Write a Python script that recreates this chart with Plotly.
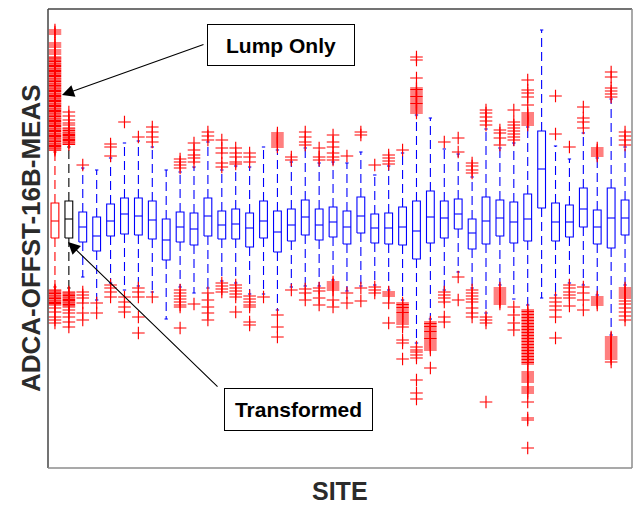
import plotly.graph_objects as go

# ---- per-site box statistics (measurement units) ----
sites = list(range(1, 43))

whisker_hi = [316, 321, 300, 298, 310, 325, 327, 321, 298, 296, 301, 326, 298, 302, 301, 321, 318, 306, 320, 305,
              306, 305, 316, 293, 302, 315, 353, 350, 319, 314, 291, 339, 320, 325, 341, 438, 322, 309, 335, 310,
              369, 321]
q3 = [265, 267, 256, 251, 264, 270, 270, 267, 249, 256, 255, 270, 257, 259, 255, 267, 257, 259, 268, 259,
      261, 257, 271, 254, 255, 261, 267, 277, 267, 269, 249, 271, 268, 266, 274, 337, 265, 263, 280, 258,
      280, 268]
median = [247, 249, 241, 232, 247, 254, 252, 248, 228, 241, 239, 252, 243, 244, 240, 247, 236, 243, 251, 243,
          246, 241, 252, 240, 240, 241, 237, 251, 250, 254, 235, 247, 250, 246, 249, 299, 246, 246, 259, 241,
          250, 250]
q1 = [230, 230, 226, 217, 232, 234, 233, 229, 208, 226, 223, 232, 229, 229, 221, 230, 216, 227, 233, 228,
      231, 224, 235, 225, 224, 223, 209, 225, 230, 239, 219, 224, 232, 225, 227, 260, 227, 231, 241, 224,
      220, 233]
whisker_lo = [181, 180, 191, 168, 185, 178, 182, 176, 149, 181, 175, 180, 187, 185, 174, 174, 158, 181, 182, 182,
              188, 177, 182, 183, 178, 168, 125, 149, 178, 196, 180, 155, 183, 169, 163, 170, 173, 185, 183, 173,
              133, 183]

outliers = [
    # site 1 (lump only)
    [438, 436, 434, 425, 423, 421, 418, 416, 414,
     411, 410, 409, 407.8, 406.5, 405, 404, 402.7, 401.5, 400, 399, 397.6, 396.4, 395, 394, 392.7, 391.5, 390,
     389, 387.8, 386.5, 385, 384, 382.6, 381.3, 380, 379, 377.7, 376.5, 375, 374, 372.6, 371.4, 370, 369,
     367.7, 366.5, 365, 364, 362.7, 361.5, 360, 359, 357.6, 356.4, 355, 354, 352.8, 351.5, 350, 349, 347.7,
     346.4, 345, 344, 342.7, 341.5, 340, 339, 337.6, 336.5, 335, 334, 332.7, 331.4, 330, 329, 327.8, 326.5,
     325, 324, 322.6, 321.4, 320, 319, 317.8,
     178, 177, 175.8, 174.5, 173, 172, 170.7, 169.5, 168, 167, 165.6, 164.4, 163, 160, 156, 151, 148, 145],
    # site 2 (transformed)
    [356, 352, 348, 345, 343, 340, 339, 337.5, 336, 335, 333.6, 332.4, 331, 330, 328.7, 327.4, 326, 325, 323.6,
     176, 175, 173.7, 172.4, 171, 170, 168.6, 167.4, 166, 165, 163.6, 162.3, 161, 158, 155, 151, 146, 141],
    [303, 176, 173, 170, 165, 155, 148],
    [165, 155],
    [324, 321, 312, 183, 180, 176, 171],
    [346, 171, 166, 161, 156],
    [331, 180, 176, 171, 151, 135],
    [341, 336, 331, 326, 171],
    [],
    [309, 306, 303, 300, 178, 175, 172, 169, 166, 163, 161, 140],
    [325, 318, 313, 310, 306, 164],
    [336, 332, 328, 175, 168, 161, 155, 148],
    [328, 320, 315, 305, 301, 185, 182, 179, 176],
    [320, 315, 311, 306, 304, 183, 180, 177, 174, 171, 156],
    [315, 311, 306, 172, 169, 166, 163, 161, 146, 143],
    [171],
    [335, 333, 331, 329, 327, 325, 323, 321, 153, 141, 131],
    [311, 308, 178],
    [336, 331, 326, 323, 179, 175, 168],
    [320, 311, 308, 180, 177, 170, 163],
    [333, 326, 321, 315, 311, 308, 186, 184, 182, 180, 178, 168, 161],
    [312, 175, 165],
    [336, 333, 180, 167],
    [303, 181, 178, 175],
    [313, 310, 307, 304, 176, 174, 172, 165, 145],
    [318, 165, 163.5, 162, 160.5, 159, 157, 155.5, 154, 152, 150, 148, 146, 144, 141, 128, 125, 109],
    [411, 408, 390, 380, 378.5, 377, 375, 373, 371.5, 370, 368, 366, 364.5, 363, 361, 359, 357, 355,
     121, 118, 116, 113, 110, 88, 75, 69],
    [146, 144.5, 143, 141.5, 140, 138, 136.5, 135, 133, 131, 129.5, 128, 126, 124, 122, 120, 118, 100],
    [326, 176, 173, 170, 166, 151, 146],
    [330, 316, 191, 168],
    [305, 302, 298, 295, 178, 175, 172, 169, 166, 160, 155, 151],
    [358, 355, 351, 347, 343, 151, 148, 145, 66],
    [338, 335, 330, 323, 180, 178, 176, 174, 172, 170, 168, 166, 164],
    [358, 346, 343, 340, 337, 334, 331, 328, 161, 153, 145, 138],
    [388, 378, 375, 371, 363, 355, 353, 351, 349, 347, 345, 343,
     158, 156.5, 155, 153.5, 152, 150.5, 149, 147.5, 146, 144.5, 143, 141.5, 140, 138.5, 137, 135.5, 134,
     132.5, 131, 129.5, 128, 126.5, 125, 123.5, 122, 120.5, 119, 117.5, 116, 114.5, 113, 111.5, 110, 108.5,
     107, 105.5, 104, 96, 94, 92, 90, 88, 86, 81, 79, 77, 75, 66, 50, 48, 20],
    [],
    [372, 334, 170, 166, 162, 158, 151, 130],
    [321, 183, 180, 176, 173, 170, 162],
    [361, 350, 346, 340, 181, 175, 168, 158],
    [320, 318, 316, 314, 312, 171, 169, 167, 165, 163],
    [396, 391, 380, 377, 374, 371, 131, 129, 127, 125, 123, 121, 119, 117, 115, 113, 111, 109, 106],
    [336, 332, 328, 323, 180, 178, 176, 174, 172, 170, 167, 164, 160, 156, 152, 148],
]

# ---- styling ----
box_colors = ["#ff0000", "#000000"] + ["#0000ff"] * (len(sites) - 2)
HALF_BOX = 0.28
HALF_CAP = 0.12
FONT = "Liberation Sans, Arial, Helvetica, sans-serif"

fig = go.Figure()

# group the geometry of every box by colour so each colour is a couple of traces
groups = {}
for i, s in enumerate(sites):
    g = groups.setdefault(box_colors[i], {"bx": [], "by": [], "wx": [], "wy": []})
    l, r = s - HALF_BOX, s + HALF_BOX
    # box outline
    g["bx"] += [l, r, r, l, l, None]
    g["by"] += [q1[i], q1[i], q3[i], q3[i], q1[i], None]
    # median
    g["bx"] += [l, r, None]
    g["by"] += [median[i], median[i], None]
    # whisker caps
    g["bx"] += [s - HALF_CAP, s + HALF_CAP, None, s - HALF_CAP, s + HALF_CAP, None]
    g["by"] += [whisker_hi[i], whisker_hi[i], None, whisker_lo[i], whisker_lo[i], None]
    # whiskers
    g["wx"] += [s, s, None, s, s, None]
    g["wy"] += [q3[i], whisker_hi[i], None, q1[i], whisker_lo[i], None]

for color, g in groups.items():
    fig.add_trace(go.Scatter(x=g["wx"], y=g["wy"], mode="lines",
                             line=dict(color=color, width=1.1, dash="9px,5px"),
                             hoverinfo="skip", showlegend=False))
    fig.add_trace(go.Scatter(x=g["bx"], y=g["by"], mode="lines",
                             line=dict(color=color, width=1.1),
                             hoverinfo="skip", showlegend=False))

ox, oy = [], []
for s, vals in zip(sites, outliers):
    ox += [s] * len(vals)
    oy += vals
fig.add_trace(go.Scatter(x=ox, y=oy, mode="markers",
                         marker=dict(symbol="cross-thin", size=9, color="#ff0000",
                                     line=dict(color="#ff0000", width=1.15)),
                         showlegend=False))

fig.update_xaxes(range=[0.5, 42.5], showticklabels=False, ticks="", showgrid=False,
                 zeroline=False, showline=False)
fig.update_yaxes(range=[0, 459], showticklabels=False, ticks="", showgrid=False,
                 zeroline=False, showline=False)

# frame: dark top/left, light bottom/right
frame = [((0, 0), (0, 1), "#444444"), ((0, 1), (1, 1), "#444444"),
         ((0, 0), (1, 0), "#8c8c8c"), ((1, 0), (1, 1), "#8c8c8c")]
for (x0, y0), (x1, y1), c in frame:
    fig.add_shape(type="line", xref="paper", yref="paper", x0=x0, y0=y0, x1=x1, y1=y1,
                  line=dict(color=c, width=1.5), layer="above")

title_font = dict(family=FONT, size=26, color="#2b2b2b", weight="bold")
fig.add_annotation(text="ADCA-OFFST-16B-MEAS", xref="paper", yref="paper",
                   x=-0.029, y=0.501, textangle=-90, showarrow=False,
                   xanchor="center", yanchor="middle", font=title_font)
fig.add_annotation(text="SITE", xref="paper", yref="paper", x=0.5, y=-0.0495,
                   showarrow=False, xanchor="center", yanchor="middle",
                   font=dict(family=FONT, size=25, color="#2b2b2b", weight="bold"),
                   borderpad=0)

label_font = dict(family=FONT, size=21, color="#000000", weight="bold")
fig.add_annotation(text="Lump Only", xref="paper", yref="paper", x=0.399, y=0.9216,
                   showarrow=False, xanchor="center", yanchor="middle", font=label_font,
                   width=144, height=38, bgcolor="white", bordercolor="black",
                   borderwidth=1, borderpad=1)
fig.add_annotation(text="Transformed", xref="paper", yref="paper", x=0.429, y=0.1275,
                   showarrow=False, xanchor="center", yanchor="middle", font=label_font,
                   width=145, height=39, bgcolor="white", bordercolor="black",
                   borderwidth=1, borderpad=1)

# arrows pointing at the first two sites
fig.add_annotation(text="", x=1.507, y=373, xref="x", yref="y", ax=143, ay=-51,
                   showarrow=True, arrowhead=2, arrowsize=2.2, arrowwidth=1.1, arrowcolor="black")
fig.add_annotation(text="", x=1.94, y=226, xref="x", yref="y", ax=151, ay=146,
                   showarrow=True, arrowhead=2, arrowsize=2.2, arrowwidth=1.1, arrowcolor="black")

fig.update_layout(width=633, height=505, margin=dict(l=48, r=1, t=9, b=37),
                  plot_bgcolor="white", paper_bgcolor="white", showlegend=False)

fig.write_html("out.html")
